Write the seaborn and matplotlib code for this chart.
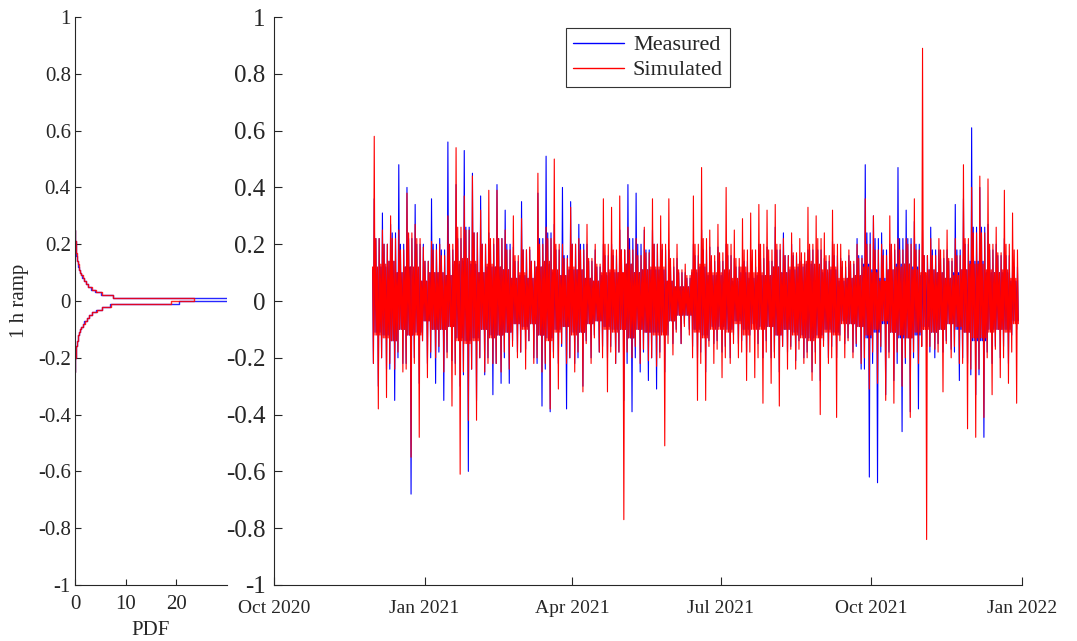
import numpy as np
import pandas as pd
import matplotlib
matplotlib.use("Agg")
import matplotlib.pyplot as plt
import matplotlib.dates as mdates
import seaborn as sns

# ---- data ----
# 5-day windows starting 2020-11-30: per window the largest up ramp, the
# largest down ramp, the usual secondary spike height and the half-width
# of the dense band around zero
window_start = "2020-11-30"
window_days = 5

measured_hi = [0.36, 0.31, 0.27, 0.48, 0.40, 0.34, 0.20, 0.36, 0.22, 0.56,
               0.41, 0.53, 0.45, 0.37, 0.24, 0.41, 0.32, 0.19, 0.35, 0.18,
               0.38, 0.51, 0.27, 0.40, 0.35, 0.27, 0.20, 0.18, 0.20, 0.20,
               0.25, 0.41, 0.38, 0.25, 0.25, 0.20, 0.18, 0.15, 0.10, 0.20,
               0.25, 0.19, 0.19, 0.20, 0.15, 0.13, 0.14, 0.20, 0.19, 0.26,
               0.24, 0.20, 0.14, 0.18, 0.13, 0.15, 0.21, 0.15, 0.16, 0.22,
               0.48, 0.30, 0.24, 0.20, 0.47, 0.32, 0.28, 0.25, 0.26, 0.18,
               0.18, 0.34, 0.36, 0.61, 0.40, 0.27, 0.20, 0.22, 0.12]
measured_lo = [-0.30, -0.24, -0.35, -0.22, -0.68, -0.29, -0.22, -0.29, -0.35, -0.21,
               -0.30, -0.60, -0.35, -0.26, -0.33, -0.29, -0.29, -0.18, -0.17, -0.20,
               -0.37, -0.39, -0.22, -0.38, -0.22, -0.30, -0.20, -0.18, -0.20, -0.22,
               -0.35, -0.39, -0.25, -0.28, -0.31, -0.25, -0.15, -0.15, -0.10, -0.20,
               -0.25, -0.15, -0.18, -0.20, -0.15, -0.18, -0.10, -0.20, -0.20, -0.25,
               -0.18, -0.21, -0.20, -0.25, -0.28, -0.20, -0.20, -0.15, -0.18, -0.24,
               -0.62, -0.64, -0.33, -0.28, -0.46, -0.39, -0.38, -0.16, -0.20, -0.18,
               -0.17, -0.28, -0.22, -0.33, -0.48, -0.22, -0.20, -0.22, -0.10]
measured_mid = [0.22, 0.20, 0.24, 0.20, 0.22, 0.20, 0.14, 0.20, 0.18, 0.18,
                0.22, 0.26, 0.24, 0.20, 0.20, 0.22, 0.20, 0.14, 0.18, 0.14,
                0.22, 0.24, 0.18, 0.16, 0.20, 0.20, 0.14, 0.12, 0.16, 0.16,
                0.18, 0.22, 0.20, 0.18, 0.20, 0.18, 0.12, 0.10, 0.08, 0.16,
                0.18, 0.14, 0.14, 0.16, 0.12, 0.14, 0.12, 0.15, 0.14, 0.18,
                0.16, 0.16, 0.14, 0.18, 0.18, 0.14, 0.16, 0.12, 0.13, 0.16,
                0.24, 0.22, 0.18, 0.18, 0.22, 0.22, 0.20, 0.16, 0.18, 0.15,
                0.14, 0.18, 0.20, 0.26, 0.26, 0.18, 0.16, 0.16, 0.12]
measured_core = [0.11, 0.12, 0.14, 0.10, 0.12, 0.11, 0.07, 0.10, 0.10, 0.09,
                 0.13, 0.14, 0.13, 0.10, 0.12, 0.12, 0.11, 0.08, 0.09, 0.08,
                 0.12, 0.13, 0.10, 0.09, 0.11, 0.11, 0.08, 0.07, 0.09, 0.10,
                 0.10, 0.13, 0.10, 0.11, 0.11, 0.11, 0.07, 0.05, 0.05, 0.10,
                 0.12, 0.09, 0.09, 0.10, 0.07, 0.10, 0.08, 0.09, 0.09, 0.12,
                 0.10, 0.11, 0.12, 0.13, 0.12, 0.10, 0.11, 0.07, 0.08, 0.09,
                 0.13, 0.11, 0.08, 0.11, 0.13, 0.13, 0.12, 0.09, 0.11, 0.10,
                 0.08, 0.10, 0.11, 0.14, 0.14, 0.10, 0.10, 0.10, 0.07]
simulated_hi = [0.58, 0.25, 0.30, 0.25, 0.38, 0.27, 0.19, 0.21, 0.20, 0.30,
                0.54, 0.37, 0.44, 0.32, 0.39, 0.39, 0.25, 0.30, 0.29, 0.19,
                0.45, 0.26, 0.50, 0.20, 0.33, 0.22, 0.27, 0.20, 0.36, 0.33,
                0.37, 0.26, 0.22, 0.26, 0.36, 0.30, 0.36, 0.20, 0.13, 0.37,
                0.47, 0.25, 0.27, 0.40, 0.25, 0.29, 0.31, 0.34, 0.32, 0.34,
                0.22, 0.24, 0.22, 0.33, 0.30, 0.24, 0.32, 0.20, 0.18, 0.20,
                0.36, 0.30, 0.20, 0.30, 0.22, 0.22, 0.36, 0.89, 0.22, 0.22,
                0.25, 0.22, 0.48, 0.40, 0.44, 0.43, 0.26, 0.39, 0.31]
simulated_lo = [-0.38, -0.34, -0.24, -0.25, -0.55, -0.48, -0.27, -0.20, -0.25, -0.37,
                -0.61, -0.42, -0.42, -0.25, -0.22, -0.25, -0.24, -0.20, -0.24, -0.22,
                -0.25, -0.38, -0.31, -0.22, -0.25, -0.32, -0.22, -0.18, -0.32, -0.22,
                -0.77, -0.20, -0.22, -0.21, -0.23, -0.51, -0.19, -0.15, -0.12, -0.35,
                -0.35, -0.22, -0.27, -0.22, -0.20, -0.28, -0.27, -0.36, -0.29, -0.37,
                -0.24, -0.24, -0.22, -0.28, -0.40, -0.22, -0.41, -0.20, -0.20, -0.22,
                -0.31, -0.29, -0.35, -0.36, -0.30, -0.41, -0.22, -0.84, -0.17, -0.32,
                -0.20, -0.22, -0.45, -0.48, -0.41, -0.33, -0.27, -0.29, -0.36]
simulated_mid = [0.22, 0.20, 0.22, 0.18, 0.24, 0.22, 0.14, 0.18, 0.16, 0.20,
                 0.26, 0.25, 0.24, 0.20, 0.22, 0.22, 0.18, 0.16, 0.18, 0.14,
                 0.20, 0.22, 0.20, 0.15, 0.20, 0.18, 0.15, 0.13, 0.20, 0.18,
                 0.18, 0.18, 0.16, 0.17, 0.20, 0.20, 0.15, 0.11, 0.09, 0.20,
                 0.22, 0.16, 0.17, 0.20, 0.15, 0.18, 0.18, 0.20, 0.18, 0.20,
                 0.16, 0.17, 0.17, 0.20, 0.22, 0.16, 0.20, 0.14, 0.14, 0.15,
                 0.20, 0.18, 0.16, 0.20, 0.18, 0.20, 0.18, 0.16, 0.16, 0.18,
                 0.15, 0.16, 0.22, 0.24, 0.24, 0.20, 0.17, 0.20, 0.18]
simulated_core = [0.12, 0.13, 0.14, 0.10, 0.12, 0.12, 0.07, 0.10, 0.10, 0.09,
                  0.14, 0.15, 0.14, 0.10, 0.13, 0.12, 0.11, 0.08, 0.10, 0.08,
                  0.12, 0.14, 0.11, 0.09, 0.12, 0.11, 0.08, 0.07, 0.10, 0.11,
                  0.10, 0.13, 0.10, 0.11, 0.12, 0.12, 0.07, 0.05, 0.05, 0.11,
                  0.13, 0.10, 0.10, 0.11, 0.08, 0.12, 0.10, 0.10, 0.09, 0.12,
                  0.10, 0.12, 0.13, 0.14, 0.13, 0.11, 0.12, 0.08, 0.08, 0.09,
                  0.12, 0.10, 0.07, 0.11, 0.12, 0.13, 0.11, 0.10, 0.11, 0.10,
                  0.08, 0.09, 0.11, 0.13, 0.13, 0.11, 0.10, 0.11, 0.08]

# PDF of the 1 h ramp, bins of 0.01 from -0.25 to 0.25
pdf_lo, pdf_hi, pdf_bin = -0.25, 0.25, 0.01
pdf_measured = [0.02, 0.03, 0.05, 0.07, 0.09, 0.12, 0.16, 0.20, 0.26, 0.33,
                0.42, 0.52, 0.64, 0.80, 1.00, 1.25, 1.50, 1.85, 2.30, 2.80,
                3.40, 4.20, 5.30, 7.00, 20.5, 31.0, 7.50, 5.20, 4.00, 3.20,
                2.60, 2.10, 1.75, 1.45, 1.20, 1.00, 0.82, 0.68, 0.55, 0.45,
                0.37, 0.30, 0.24, 0.19, 0.15, 0.11, 0.08, 0.05, 0.03, 0.02]
pdf_simulated = [0.01, 0.03, 0.05, 0.07, 0.10, 0.13, 0.17, 0.21, 0.27, 0.34,
                 0.43, 0.54, 0.66, 0.82, 1.02, 1.28, 1.55, 1.90, 2.35, 2.85,
                 3.45, 4.30, 5.40, 7.20, 19.0, 23.5, 7.60, 5.30, 4.10, 3.30,
                 2.65, 2.15, 1.80, 1.50, 1.22, 1.02, 0.84, 0.70, 0.57, 0.46,
                 0.38, 0.31, 0.25, 0.20, 0.16, 0.12, 0.09, 0.06, 0.04, 0.03]

series_names = ["Measured", "Simulated"]
series_colors = {"Measured": "#0000ff", "Simulated": "#ff0000"}


def ramp_frame(name, hi, lo, mid, core):
    # one window: big up/down ramps, a few secondary spikes, dense band
    starts = pd.date_range(window_start, periods=len(hi), freq=f"{window_days}D")
    offsets = pd.to_timedelta(np.arange(10) * 12 + 6, unit="h")
    times, vals = [], []
    for t0, h, l, m, c in zip(starts, hi, lo, mid, core):
        times.extend(t0 + offsets)
        vals.extend([c, -m, h, -c, m, -c, c, l, m, -c])
    return pd.DataFrame({"time": times, "ramp": vals, "series": name})


def tick_fmt(v, pos):
    return f"{round(v, 1) + 0.0:g}"


sns.set_style("white")
plt.rcParams["font.family"] = ["Liberation Serif", "DejaVu Serif"]
plt.rcParams["axes.unicode_minus"] = False

fig = plt.figure(figsize=(10.77, 6.41), dpi=100)
ax_pdf = fig.add_axes([0.0696, 0.0874, 0.1411, 0.886])
ax_ts = fig.add_axes([0.2544, 0.0874, 0.6945, 0.886])

# ---- left: PDF ----
n_bins = len(pdf_measured)
centers = pdf_lo + pdf_bin * (np.arange(n_bins) + 0.5)
pdf_df = pd.DataFrame({"ramp": np.concatenate([centers, centers]),
                       "pdf": np.concatenate([pdf_measured, pdf_simulated]),
                       "series": ["Measured"] * n_bins + ["Simulated"] * n_bins})
for name in series_names:
    sns.histplot(data=pdf_df[pdf_df["series"] == name], y="ramp", weights="pdf",
                 binwidth=pdf_bin, binrange=(pdf_lo, pdf_hi), element="step",
                 fill=False, color=series_colors[name], linewidth=1.0,
                 alpha=0.85, ax=ax_pdf)
ax_pdf.set_xlim(0, 30)
ax_pdf.set_ylim(-1, 1)
ax_pdf.set_xticks([0, 10, 20])
ax_pdf.set_yticks(np.round(np.arange(-1, 1.01, 0.2), 1))
ax_pdf.yaxis.set_major_formatter(plt.FuncFormatter(tick_fmt))
ax_pdf.set_xlabel("PDF", fontsize=15, labelpad=5)
ax_pdf.set_ylabel("1 h ramp", fontsize=15, labelpad=6)
ax_pdf.tick_params(axis="y", labelsize=15, length=4, width=0.8, pad=3,
                   direction="in", left=True)
ax_pdf.tick_params(axis="x", labelsize=15, length=4, width=0.8, pad=7,
                   direction="in", bottom=True)

# ---- right: time series ----
df = pd.concat([
    ramp_frame("Measured", measured_hi, measured_lo, measured_mid, measured_core),
    ramp_frame("Simulated", simulated_hi, simulated_lo, simulated_mid, simulated_core),
], ignore_index=True)
sns.lineplot(data=df, x="time", y="ramp", hue="series", hue_order=series_names,
             palette=series_colors, estimator=None, sort=False, linewidth=0.8,
             ax=ax_ts)
ax_ts.set_xlim(pd.Timestamp("2020-10-01"), pd.Timestamp("2022-01-01"))
ax_ts.set_ylim(-1, 1)
ax_ts.set_xticks(pd.to_datetime(["2020-10-01", "2021-01-01", "2021-04-01",
                                 "2021-07-01", "2021-10-01", "2022-01-01"]))
ax_ts.xaxis.set_major_formatter(mdates.DateFormatter("%b %Y"))
ax_ts.set_yticks(np.round(np.arange(-1, 1.01, 0.2), 1))
ax_ts.yaxis.set_major_formatter(plt.FuncFormatter(tick_fmt))
ax_ts.set_xlabel("")
ax_ts.set_ylabel("")
ax_ts.tick_params(axis="y", labelsize=18, length=6, width=0.8, pad=6,
                  direction="in", left=True)
ax_ts.tick_params(axis="x", labelsize=14, length=6, width=0.8, pad=11,
                  direction="in", bottom=True)

handles = ax_ts.get_lines()[:2]
leg = ax_ts.legend(handles, series_names, loc="upper center",
                   bbox_to_anchor=(0.5, 1.0), fontsize=16, frameon=True,
                   fancybox=False, framealpha=1, edgecolor="#333333",
                   handlelength=2.3, borderpad=0.3, labelspacing=0.2,
                   handletextpad=0.4)
leg.get_frame().set_linewidth(0.8)
for line in leg.get_lines():
    line.set_linewidth(1.0)

for ax in (ax_pdf, ax_ts):
    sns.despine(ax=ax)
    for s in ("left", "bottom"):
        ax.spines[s].set_color("#262626")
        ax.spines[s].set_linewidth(0.8)

fig.savefig("out.png", dpi=100)
